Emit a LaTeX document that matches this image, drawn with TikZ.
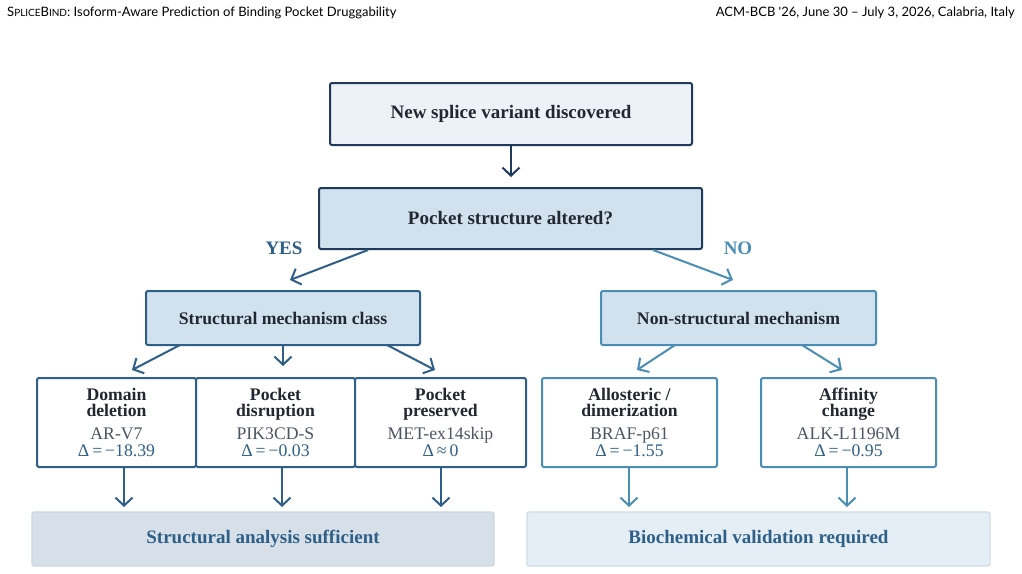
\documentclass[tikz,border=0pt]{standalone}
\usepackage{fontspec}
\setmainfont{Liberation Serif}
\newfontfamily\hdrfont{Lato}
\usetikzlibrary{arrows.meta}
\definecolor{navy}{HTML}{1F3A5A}
\definecolor{txtdark}{HTML}{222831}
\definecolor{midblue}{HTML}{2D5F88}
\definecolor{liteblue}{HTML}{4A8EB5}
\definecolor{fillA}{HTML}{EDF2F9}
\definecolor{fillB}{HTML}{D1E2EE}
\definecolor{namegray}{HTML}{4B5563}
\definecolor{botL}{HTML}{D7E0E8}
\definecolor{botLd}{HTML}{CCD6E0}
\definecolor{botR}{HTML}{E5EEF5}
\definecolor{botRd}{HTML}{D0DCE6}
\tikzset{
  box/.style={draw, line width=2pt, rounded corners=2pt, align=center, inner sep=0pt,
    font=\fontsize{17.7}{16}\selectfont\bfseries, text=txtdark},
  bigbox/.style={box, font=\fontsize{19}{17}\selectfont\bfseries},
  leaf/.style={draw, line width=2pt, rounded corners=2pt, align=center, inner sep=0pt, fill=white,
    minimum height=89pt, font=\fontsize{17.7}{16.3}\selectfont, text=txtdark},
  bot/.style={line width=1.2pt, rounded corners=2pt, minimum width=462pt, minimum height=54pt,
    font=\fontsize{19}{17}\selectfont\bfseries, text=midblue},
  arr/.style={line width=2pt, -{Straight Barb[length=8pt,width=17pt,line width=2pt]}},
  lbl/.style={font=\fontsize{19}{17}\selectfont\bfseries},
  hdr/.style={inner sep=0pt, font=\hdrfont\fontsize{13}{15}\selectfont, text=black},
}
\newcommand{\nm}[1]{{\color{namegray}#1}}
\newcommand{\fsc}[1]{{\fontsize{10}{12}\selectfont #1}}
\begin{document}
\begin{tikzpicture}[x=1pt,y=-1pt]
\useasboundingbox[fill=white] (0,0) rectangle (1022,573);
% header
\node[hdr, anchor=base west] (hl) at (7,16)
  {S\fsc{PLICE}B\fsc{IND}: Isoform-Aware Prediction of Binding Pocket Druggability};
\node[hdr, anchor=base east] (hr) at (1015,16)
  {ACM-BCB '26, June 30 – July 3, 2026, Calabria, Italy};
% main boxes
\node[bigbox, draw=navy, fill=fillA, minimum width=362pt, minimum height=62pt] (top) at (511,114) {New splice variant discovered};
\node[bigbox, draw=navy, fill=fillB, minimum width=383pt, minimum height=61pt] (dec) at (510.5,218.5) {Pocket structure altered?};
\node[box, draw=midblue, fill=fillB, minimum width=274pt, minimum height=54pt] (scl) at (283,318) {Structural mechanism class};
\node[box, draw=liteblue, fill=fillB, minimum width=275pt, minimum height=54pt] (ncl) at (738.5,318) {Non-structural mechanism};
% leaves
\node[leaf, draw=midblue, minimum width=159pt] (l1) at (116.5,422.5)
  {\textbf{Domain}\\\textbf{deletion}\\[6pt]\nm{AR-V7}\\[1pt]{\color{midblue}Δ\,=\,−18.39}};
\node[leaf, draw=midblue, minimum width=159pt] (l2) at (275.5,422.5)
  {\textbf{Pocket}\\\textbf{disruption}\\[6pt]\nm{PIK3CD-S}\\[1pt]{\color{midblue}Δ\,=\,−0.03}};
\node[leaf, draw=midblue, minimum width=171pt] (l3) at (440.5,422.5)
  {\textbf{Pocket}\\\textbf{preserved}\\[6pt]\nm{MET-ex14skip}\\[1pt]{\color{midblue}Δ\,≈\,0}};
\node[leaf, draw=liteblue, minimum width=175pt] (r1) at (629.5,422.5)
  {\textbf{Allosteric /}\\\textbf{dimerization}\\[6pt]\nm{BRAF-p61}\\[1pt]{\color{midblue}Δ\,=\,−1.55}};
\node[leaf, draw=liteblue, minimum width=175pt] (r2) at (848.5,422.5)
  {\textbf{Affinity}\\\textbf{change}\\[6pt]\nm{ALK-L1196M}\\[1pt]{\color{midblue}Δ\,=\,−0.95}};
% bottom
\node[bot, fill=botL, draw=botLd] (b1) at (263,539) {Structural analysis sufficient};
\node[bot, fill=botR, draw=botRd, minimum width=463pt] (b2) at (758.5,539) {Biochemical validation required};
% labels
\node[lbl, text=midblue] (yes) at (284,248) {YES};
\node[lbl, text=liteblue] (no) at (738,248) {NO};
% arrows
\coordinate (e1) at (511,177);
\draw[arr, draw=navy] (top.south) -- (e1);
\coordinate (ys) at (368,250); \coordinate (ye) at (290,280);
\draw[arr, draw=midblue] (ys) -- (ye);
\coordinate (ns) at (653,250); \coordinate (ne) at (733,280);
\draw[arr, draw=liteblue] (ns) -- (ne);
\coordinate (s1) at (180,345); \coordinate (t1) at (132,370);
\coordinate (s2) at (283,345); \coordinate (t2) at (283,366);
\coordinate (s3) at (387,345); \coordinate (t3) at (435,370);
\draw[arr, draw=midblue] (s1) -- (t1);
\draw[arr, draw=midblue] (s2) -- (t2);
\draw[arr, draw=midblue] (s3) -- (t3);
\coordinate (s4) at (675,345); \coordinate (t4) at (637,370);
\coordinate (s5) at (802,345); \coordinate (t5) at (842,370);
\draw[arr, draw=liteblue] (s4) -- (t4);
\draw[arr, draw=liteblue] (s5) -- (t5);
\coordinate (u1) at (124,467); \coordinate (v1) at (124,507);
\coordinate (u2) at (282,467); \coordinate (v2) at (282,507);
\coordinate (u3) at (441,467); \coordinate (v3) at (441,507);
\coordinate (u4) at (629,467); \coordinate (v4) at (629,507);
\coordinate (u5) at (847,467); \coordinate (v5) at (847,507);
\draw[arr, draw=midblue] (u1) -- (v1);
\draw[arr, draw=midblue] (u2) -- (v2);
\draw[arr, draw=midblue] (u3) -- (v3);
\draw[arr, draw=liteblue] (u4) -- (v4);
\draw[arr, draw=liteblue] (u5) -- (v5);
\end{tikzpicture}
\end{document}
